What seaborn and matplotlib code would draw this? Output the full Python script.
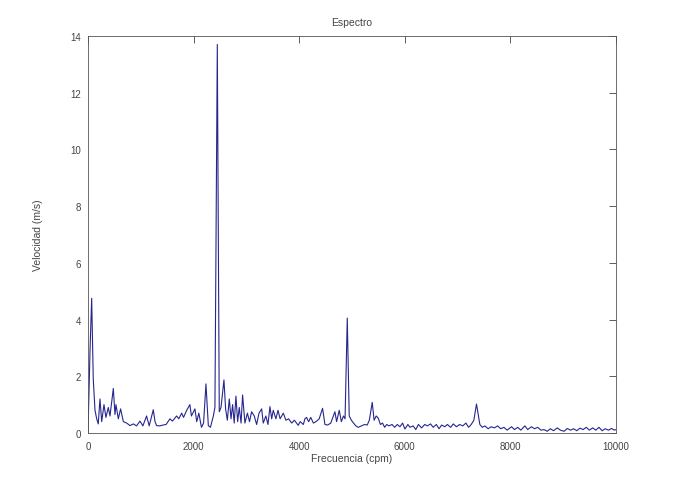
import numpy as np
import pandas as pd
import matplotlib
matplotlib.use("Agg")
import matplotlib.pyplot as plt
import seaborn as sns

freq = [0, 40, 70, 100, 133, 165, 195, 227, 260, 303, 340, 385, 417, 480, 511, 530, 575, 618, 670, 733,
        795, 860, 920, 985, 1040, 1110, 1160, 1237, 1270, 1300, 1360, 1420, 1480, 1553, 1600, 1680, 1720,
        1775, 1810, 1870, 1930, 1960, 2026, 2060, 2100, 2150, 2190, 2235, 2280, 2320, 2375, 2405, 2450,
        2487, 2520, 2576, 2607, 2640, 2677, 2710, 2740, 2770, 2803, 2835, 2866, 2900, 2929, 2973, 3020,
        3060, 3100, 3150, 3195, 3240, 3290, 3320, 3370, 3410, 3447, 3480, 3510, 3560, 3600, 3640, 3700,
        3750, 3800, 3860, 3910, 3983, 4020, 4080, 4110, 4140, 4180, 4220, 4270, 4320, 4380, 4444, 4489,
        4540, 4600, 4678, 4710, 4760, 4800, 4840, 4870, 4912, 4949, 4990, 5030, 5075, 5120, 5180, 5240,
        5290, 5330, 5385, 5420, 5460, 5500, 5540, 5580, 5620, 5660, 5700, 5760, 5810, 5860, 5910, 5960,
        6004, 6060, 6100, 6160, 6210, 6260, 6320, 6380, 6430, 6490, 6540, 6600, 6650, 6700, 6760, 6810,
        6870, 6920, 6980, 7040, 7100, 7160, 7210, 7260, 7310, 7360, 7424, 7470, 7520, 7580, 7640, 7700,
        7760, 7820, 7880, 7940, 8025, 8080, 8140, 8200, 8277, 8330, 8400, 8460, 8520, 8580, 8640, 8700,
        8760, 8820, 8890, 8950, 9020, 9080, 9140, 9200, 9260, 9320, 9380, 9440, 9500, 9560, 9620, 9680,
        9740, 9800, 9860, 9920, 9970, 10000]

velocidad = [0.0, 3.0, 4.75, 1.9, 0.8, 0.5, 0.32, 1.2, 0.4, 1.0, 0.55, 0.9, 0.6, 1.57, 0.65, 1.0, 0.5, 0.85, 0.4, 0.35,
             0.26, 0.32, 0.25, 0.42, 0.25, 0.6, 0.25, 0.82, 0.4, 0.26, 0.25, 0.28, 0.3, 0.5, 0.42, 0.6, 0.5,
             0.7, 0.55, 0.8, 1.0, 0.6, 0.85, 0.4, 0.7, 0.2, 0.35, 1.73, 0.26, 0.2, 0.6, 0.9, 13.7,
             0.75, 0.9, 1.87, 0.85, 0.45, 1.2, 0.5, 1.0, 0.35, 1.3, 0.4, 0.9, 0.35, 1.34, 0.35, 0.7,
             0.4, 0.75, 0.6, 0.3, 0.7, 0.85, 0.35, 0.6, 0.3, 0.93, 0.5, 0.8, 0.5, 0.8, 0.5, 0.7,
             0.45, 0.5, 0.35, 0.45, 0.27, 0.4, 0.3, 0.5, 0.55, 0.4, 0.55, 0.35, 0.4, 0.5, 0.87, 0.3,
             0.28, 0.35, 0.75, 0.4, 0.8, 0.4, 0.6, 0.5, 4.05, 0.6, 0.45, 0.35, 0.25, 0.2, 0.25, 0.3,
             0.28, 0.45, 1.08, 0.45, 0.6, 0.52, 0.3, 0.35, 0.2, 0.3, 0.25, 0.3, 0.2, 0.3, 0.22, 0.35,
             0.14, 0.3, 0.2, 0.25, 0.12, 0.3, 0.18, 0.3, 0.25, 0.32, 0.2, 0.3, 0.15, 0.28, 0.22, 0.3,
             0.2, 0.32, 0.22, 0.3, 0.25, 0.35, 0.2, 0.3, 0.45, 1.02, 0.3, 0.2, 0.25, 0.15, 0.22, 0.18,
             0.25, 0.15, 0.2, 0.1, 0.22, 0.12, 0.2, 0.1, 0.25, 0.12, 0.22, 0.15, 0.2, 0.1, 0.12, 0.06,
             0.15, 0.08, 0.18, 0.1, 0.06, 0.16, 0.1, 0.15, 0.08, 0.17, 0.12, 0.2, 0.1, 0.18, 0.1, 0.2,
             0.08, 0.15, 0.1, 0.16, 0.1, 0.12]

xticks = [0, 2000, 4000, 6000, 8000, 10000]
yticks = [0, 2, 4, 6, 8, 10, 12, 14]

df = pd.DataFrame({"Frecuencia": freq, "Velocidad": velocidad})

sns.set_theme(style="white")
plt.rcParams['font.family'] = ['Liberation Sans', 'DejaVu Sans']

fig = plt.figure(figsize=(6.82, 4.89), dpi=100)
ax = fig.add_axes([0.129, 0.1125, 0.774, 0.812])

sns.lineplot(data=df, x="Frecuencia", y="Velocidad", ax=ax, estimator=None, sort=False,
             color="#26268f", linewidth=0.8)

ax.set_xlim(0, 10000)
ax.set_ylim(0, 14)
ax.set_xticks(xticks)
ax.set_yticks(yticks)
ax.set_xticklabels([str(t) for t in xticks])
ax.set_yticklabels([str(t) for t in yticks])
ax.tick_params(direction="in", length=5, width=0.6, top=True, right=True,
               labelsize=7, colors="#444444", pad=5)
ax.tick_params(axis="x", pad=6)
for s in ax.spines.values():
    s.set_visible(True)
    s.set_linewidth(0.6)
    s.set_color("#555555")

ax.set_title("Espectro", fontsize=7.5, color="#444444", pad=8)
ax.set_xlabel("Frecuencia (cpm)", fontsize=7.5, color="#444444", labelpad=1)
ax.set_ylabel("Velocidad (m/s)", fontsize=7.5, color="#444444", labelpad=20)

fig.savefig("out.png", dpi=100, facecolor="white")
